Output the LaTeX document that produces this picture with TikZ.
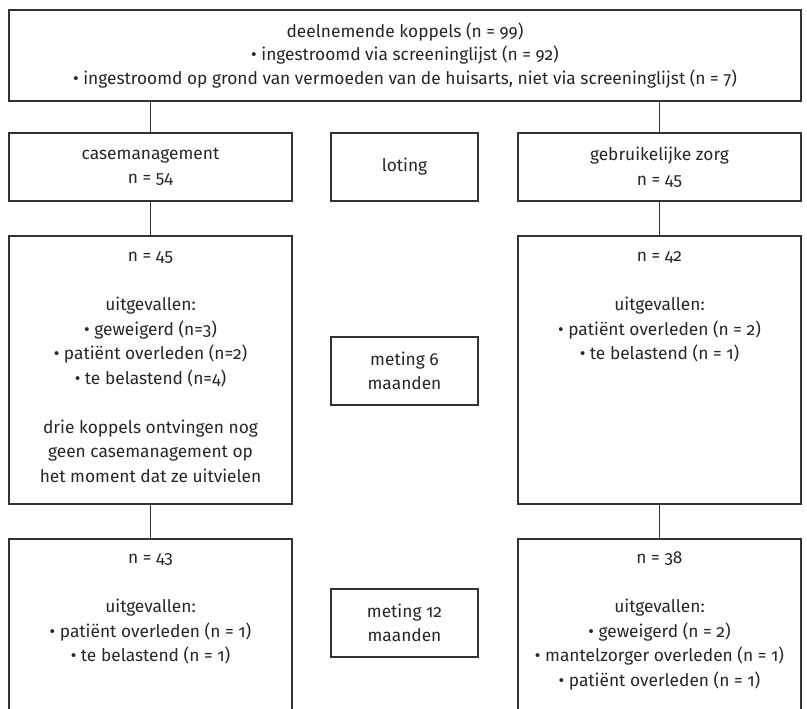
\documentclass[tikz,border=0pt]{standalone}
\usepackage{fontspec}
\setmainfont{Fira Sans}[Numbers=OldStyle]
\definecolor{linecol}{HTML}{333333}
\definecolor{textcol}{HTML}{262626}
\begin{document}
\begin{tikzpicture}[x=0.75pt,y=-0.75pt,
  every node/.style={font=\fontsize{13pt}{18.4pt}\selectfont},
  box/.style={draw=linecol, line width=1pt, minimum width=212.25pt, inner sep=0pt, align=center, text=textcol},
  midbox/.style={draw=linecol, line width=1pt, minimum width=110.25pt, minimum height=51pt, inner sep=0pt, align=center, text=textcol},
  txt/.style={anchor=north, inner sep=0pt, align=center, text=textcol},
  conn/.style={draw=linecol, line width=1pt}]
\useasboundingbox (0,0) rectangle (807,708);
\clip (0,0) rectangle (807,708);
% top
\node[box, minimum width=594pt, minimum height=68.25pt, font=\fontsize{13pt}{17.6pt}\selectfont] (top) at (405,55.5)
  {deelnemende koppels (n = 99)\\ • ingestroomd via screeninglijst (n = 92)\\ • ingestroomd op grond van vermoeden van de huisarts, niet via screeninglijst (n = 7)};
% row 2
\node[box, minimum height=51pt] (cm) at (150.5,167) {casemanagement\\ n = 54};
\node[midbox] (lot) at (404.5,167) {loting};
\node[box, minimum height=51pt] (gz) at (659.5,167) {gebruikelijke zorg\\ n = 45};
% row 3
\node[box, minimum height=201pt] (cm6) at (150.5,370) {};
\node[midbox] (m6) at (404.5,371) {meting 6\\ maanden};
\node[box, minimum height=201pt] (gz6) at (659.5,370) {};
\node[txt] (cm6t) at ([yshift=-6.5pt]cm6.north) {\strut n = 45\\[18.4pt] uitgevallen:\\ • geweigerd (n=3)\\ • patiënt overleden (n=2)\\ • te belastend (n=4)\\[18.4pt] drie koppels ontvingen nog\\ geen casemanagement op\\ het moment dat ze uitvielen};
\node[txt] (gz6t) at ([yshift=-6.5pt]gz6.north) {\strut n = 42\\[18.4pt] uitgevallen:\\ • patiënt overleden (n = 2)\\ • te belastend (n = 1)};
% row 4
\node[box, minimum height=143.25pt] (cm12) at (150.5,634.5) {};
\node[midbox] (m12) at (404.5,623) {meting 12\\ maanden};
\node[box, minimum height=143.25pt] (gz12) at (659.5,634.5) {};
\node[txt] (cm12t) at ([yshift=-6pt]cm12.north) {\strut n = 43\\[18.4pt] uitgevallen:\\ • patiënt overleden (n = 1)\\ • te belastend (n = 1)};
\node[txt] (gz12t) at ([yshift=-6pt]gz12.north) {\strut n = 38\\[18.4pt] uitgevallen:\\ • geweigerd (n = 2)\\ • mantelzorger overleden (n = 1)\\ • patiënt overleden (n = 1)};
% connectors
\draw[conn] (top.south -| cm.north) -- (cm.north);
\draw[conn] (top.south -| gz.north) -- (gz.north);
\draw[conn] (cm.south) -- (cm6.north);
\draw[conn] (gz.south) -- (gz6.north);
\draw[conn] (cm6.south) -- (cm12.north);
\draw[conn] (gz6.south) -- (gz12.north);
\end{tikzpicture}
\end{document}
